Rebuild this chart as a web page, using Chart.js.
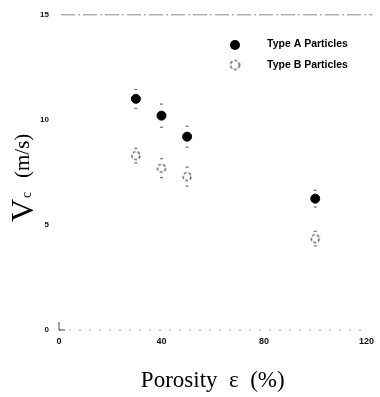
<!DOCTYPE html>
<html>
<head>
<meta charset="utf-8">
<script src="https://cdn.jsdelivr.net/npm/chart.js@4.4.0/dist/chart.umd.min.js"></script>
<style>
  html, body { margin: 0; padding: 0; background: #fff; }
  #wrap { width: 380px; height: 397px; position: relative; }
</style>
</head>
<body>
<div id="wrap"><canvas id="porosityChart" width="380" height="397"></canvas></div>
<script>
// porosity (%) for each measurement
const porosity = [30, 40, 50, 100];
// critical velocity Vc (m/s)
const typeA = [11.0, 10.2, 9.2, 6.25];
const typeB = [8.3, 7.7, 7.3, 4.35];
const errA = [0.45, 0.55, 0.5, 0.4];
const errB = [0.35, 0.45, 0.45, 0.35];
const xTicks = [0, 40, 80, 120];
const yTicks = [0, 5, 10, 15];

const serif = '"Liberation Serif", "Times New Roman", serif';
const sans = '"Liberation Sans", Arial, sans-serif';

// dashed open circle marker for type B
function dashedCircle(r) {
    const c = document.createElement('canvas');
    c.width = c.height = r * 2 + 4;
    const g = c.getContext('2d');
    g.strokeStyle = '#333';
    g.lineWidth = 1.2;
    g.setLineDash([3, 2]);
    g.beginPath();
    g.arc(r + 2, r + 2, r, 0, Math.PI * 2);
    g.stroke();
    return c;
}
const markerB = dashedCircle(4);
const legendB = dashedCircle(4.5);

const errorBars = {
    id: 'errorBars',
    afterDatasetsDraw(chart) {
        const ctx = chart.ctx;
        const x = chart.scales.x, y = chart.scales.y;
        const sets = [[typeA, errA], [typeB, errB]];
        ctx.save();
        ctx.strokeStyle = '#555';
        ctx.lineWidth = 1;
        sets.forEach(([vals, errs]) => {
            vals.forEach((v, i) => {
                const px = x.getPixelForValue(porosity[i]);
                [v + errs[i], v - errs[i]].forEach(e => {
                    const py = y.getPixelForValue(e);
                    ctx.beginPath();
                    ctx.moveTo(px - 1.5, py);
                    ctx.lineTo(px + 1.5, py);
                    ctx.stroke();
                });
            });
        });
        ctx.restore();
    }
};

const decorations = {
    id: 'decorations',
    afterDraw(chart) {
        const ctx = chart.ctx;
        const area = chart.chartArea;
        ctx.save();
        // top dashed frame line
        ctx.strokeStyle = '#888';
        ctx.lineWidth = 1;
        ctx.setLineDash([14, 3, 2, 3]);
        ctx.beginPath();
        ctx.moveTo(area.left + 2, area.top);
        ctx.lineTo(area.right + 6, area.top);
        ctx.stroke();
        // faint dotted x axis
        ctx.strokeStyle = '#aaa';
        ctx.setLineDash([2, 8]);
        ctx.beginPath();
        ctx.moveTo(area.left, area.bottom);
        ctx.lineTo(area.right, area.bottom);
        ctx.stroke();
        ctx.setLineDash([]);
        // small L at origin
        ctx.strokeStyle = '#444';
        ctx.beginPath();
        ctx.moveTo(area.left, area.bottom - 8);
        ctx.lineTo(area.left, area.bottom);
        ctx.lineTo(area.left + 6, area.bottom);
        ctx.stroke();

        // legend
        ctx.fillStyle = '#000';
        ctx.beginPath();
        ctx.arc(235, 45, 5, 0, Math.PI * 2);
        ctx.fill();
        ctx.drawImage(legendB, 235 - legendB.width / 2, 65 - legendB.height / 2);
        ctx.font = 'bold 10.5px ' + sans;
        ctx.textBaseline = 'middle';
        ctx.fillText('Type A Particles', 267, 44);
        ctx.fillText('Type B Particles', 267, 65);

        // x axis title
        ctx.textAlign = 'center';
        ctx.textBaseline = 'alphabetic';
        ctx.font = '23px ' + serif;
        ctx.fillText('Porosity  \u03b5  (%)', (area.left + area.right) / 2, 387);

        // y axis title: Vc (m/s)
        ctx.textAlign = 'left';
        ctx.translate(33, 200);
        ctx.rotate(-Math.PI / 2);
        ctx.font = '32px ' + serif;
        ctx.fillText('V', -22, 0);
        ctx.font = '14px ' + serif;
        ctx.fillText('c', 2, -2);
        ctx.font = '21px ' + serif;
        ctx.fillText('(m/s)', 22, -4);
        ctx.restore();
    }
};

new Chart(document.getElementById('porosityChart').getContext('2d'), {
    type: 'scatter',
    data: {
        datasets: [{
            label: 'Type A Particles',
            data: porosity.map((p, i) => ({ x: p, y: typeA[i] })),
            pointStyle: 'circle',
            pointRadius: 4.5,
            backgroundColor: '#000',
            borderColor: '#000'
        }, {
            label: 'Type B Particles',
            data: porosity.map((p, i) => ({ x: p, y: typeB[i] })),
            pointStyle: markerB
        }]
    },
    options: {
        responsive: false,
        animation: false,
        layout: { padding: { top: 14, right: 8, left: 0, bottom: 0 } },
        plugins: {
            legend: { display: false },
            tooltip: { enabled: false }
        },
        scales: {
            x: {
                type: 'linear',
                min: 0,
                max: 120,
                afterBuildTicks: axis => { axis.ticks = xTicks.map(v => ({ value: v })); },
                afterFit: axis => { axis.height = 67; },
                grid: { display: false, drawTicks: false },
                border: { display: false },
                ticks: {
                    color: '#111',
                    padding: 6,
                    maxRotation: 0,
                    font: { family: sans, size: 9, weight: 'bold' }
                }
            },
            y: {
                min: 0,
                max: 15,
                afterBuildTicks: axis => { axis.ticks = yTicks.map(v => ({ value: v })); },
                afterFit: axis => { axis.width = 59; },
                grid: { display: false, drawTicks: false },
                border: { display: false },
                ticks: {
                    color: '#111',
                    padding: 10,
                    font: { family: sans, size: 8, weight: 'bold' }
                }
            }
        }
    },
    plugins: [errorBars, decorations]
});
</script>
</body>
</html>
